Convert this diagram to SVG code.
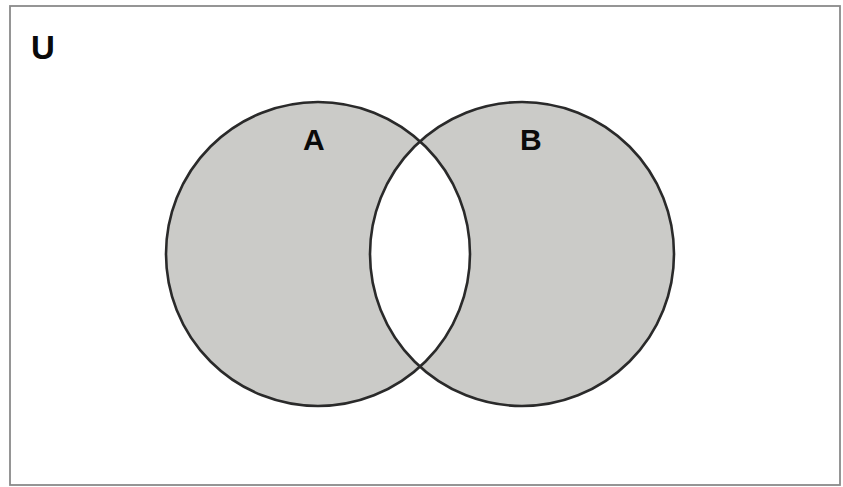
<svg xmlns="http://www.w3.org/2000/svg" width="843" height="487" viewBox="0 0 843 487">
  <style>
    .set { fill: #cbcbc8; stroke: none; }
    .outline { fill: none; stroke: #2a2a2a; stroke-width: 2.6; }
    .lbl { font-family: "Liberation Sans", Arial, sans-serif; font-weight: bold; font-size: 30px; fill: #0a0a0a; }
    .big { font-size: 33px; }
  </style>
  <rect x="0" y="0" width="843" height="487" fill="#ffffff"/>
  <g id="universe">
    <rect x="10" y="6" width="830" height="479" fill="#ffffff" stroke="#8a8a8a" stroke-width="1.8"/>
    <text class="lbl big" x="31" y="59">U</text>
  </g>
  <g id="setA">
    <circle class="set" cx="318" cy="254" r="152"/>
  </g>
  <g id="setB">
    <circle class="set" cx="522" cy="254" r="152"/>
  </g>
  <g id="intersection">
    <path d="M420,141.31 A152,152 0 0 0 420,366.69 A152,152 0 0 0 420,141.31 Z" fill="#ffffff"/>
  </g>
  <g id="outlines">
    <circle class="outline" cx="318" cy="254" r="152"/>
    <circle class="outline" cx="522" cy="254" r="152"/>
  </g>
  <g id="labels">
    <text class="lbl" x="303" y="150">A</text>
    <text class="lbl" x="520" y="150">B</text>
  </g>
</svg>
